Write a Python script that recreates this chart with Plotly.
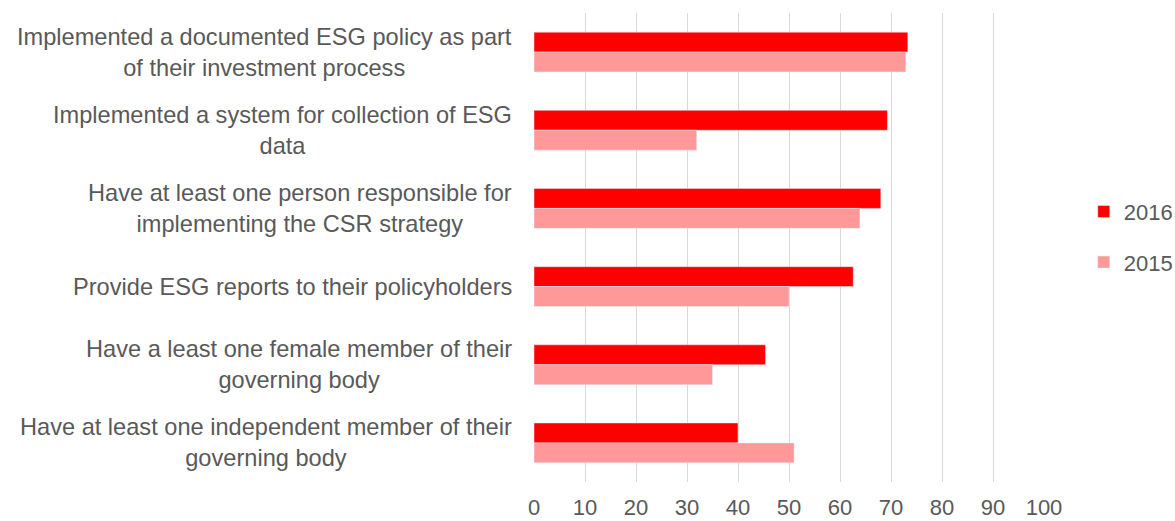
import plotly.graph_objects as go

categories = [
    "Implemented a documented ESG policy as part<br>of their investment process",
    "Implemented a system for collection of ESG<br>data",
    "Have at least one person responsible for<br>implementing the CSR strategy",
    "Provide ESG reports to their policyholders",
    "Have a least one female member of their<br>governing body",
    "Have at least one independent member of their<br>governing body",
]
values_2016 = [73.3, 69.3, 68.0, 62.6, 45.4, 40.0]
values_2015 = [72.9, 31.9, 63.9, 50.0, 35.0, 51.0]
x_ticks = [0, 10, 20, 30, 40, 50, 60, 70, 80, 90, 100]

FONT = "Liberation Sans, Arial, sans-serif"
GRAY = "#595959"

fig = go.Figure()
fig.add_trace(go.Bar(y=categories, x=values_2016, name="2016", orientation="h",
                     marker=dict(color="#FF0000"), legendgroup="a"))
fig.add_trace(go.Bar(y=categories, x=values_2015, name="2015", orientation="h",
                     marker=dict(color="#FF9999"), legendgroup="b"))

for cat in categories:
    fig.add_annotation(x=0, xref="paper", y=cat, yref="y", text=cat,
                       xanchor="right", yanchor="middle", align="center",
                       xshift=-20, showarrow=False,
                       font=dict(family=FONT, size=23.6, color=GRAY))

fig.update_layout(
    width=1175, height=521,
    margin=dict(l=534, r=131, t=13, b=39, autoexpand=False),
    paper_bgcolor="white", plot_bgcolor="white",
    barmode="group", bargap=0.49, bargroupgap=0,
    font=dict(family=FONT, size=22, color=GRAY),
    legend=dict(x=1.078, y=0.522, xanchor="left", yanchor="middle",
                font=dict(family=FONT, size=22, color=GRAY),
                tracegroupgap=19, itemwidth=30, bgcolor="rgba(0,0,0,0)"),
    xaxis=dict(range=[0, 100], tickvals=x_ticks, showgrid=True,
               gridcolor="#D9D9D9", gridwidth=1, zeroline=False,
               showline=False, ticks="outside", ticklen=6,
               tickcolor="rgba(0,0,0,0)",
               tickfont=dict(family=FONT, size=22, color=GRAY)),
    yaxis=dict(autorange="reversed", showgrid=False, showline=False,
               zeroline=False, showticklabels=False, ticks=""),
)

fig.write_html("out.html")
